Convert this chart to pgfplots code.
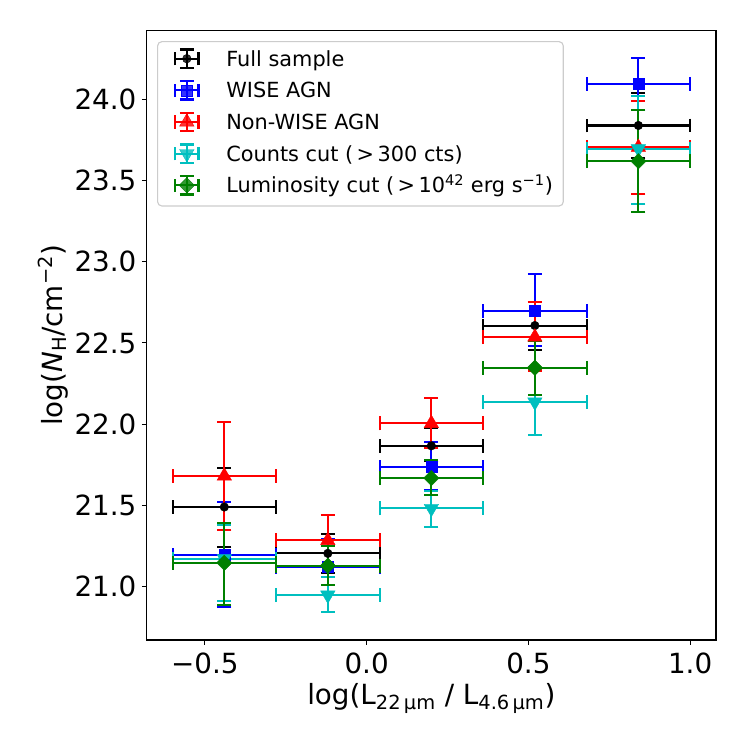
\documentclass[border=0pt]{standalone}
\usepackage{fontspec}
\setmainfont{DejaVu Sans}
\usepackage{pgfplots}
\pgfplotsset{compat=1.18}
\usepackage{pgfplotstable}

\definecolor{mplc}{rgb}{0,0.75,0.75}
\definecolor{mplg}{rgb}{0,0.5,0}

\pgfplotstableread{
x y xe ep em
-0.44 21.489 0.16 0.241 0.245
-0.12 21.203 0.16 0.119 0.119
0.20 21.866 0.16 0.109 0.092
0.52 22.607 0.16 0.147 0.151
0.84 23.840 0.16 0.200 0.200
}\full
\pgfplotstableread{
x y xe ep em
-0.44 21.193 0.16 0.327 0.323
-0.12 21.120 0.16 0.173 0.174
0.20 21.735 0.16 0.152 0.142
0.52 22.698 0.16 0.224 0.218
0.84 24.097 0.16 0.156 0.162
}\wise
\pgfplotstableread{
x y xe ep em
-0.44 21.680 0.16 0.330 0.333
-0.12 21.283 0.16 0.157 0.155
0.20 22.004 0.16 0.154 0.154
0.52 22.536 0.16 0.218 0.206
0.84 23.705 0.16 0.285 0.288
}\nonwise
\pgfplotstableread{
x y xe ep em
-0.44 21.170 0.16 0.208 0.260
-0.12 20.946 0.16 0.114 0.106
0.20 21.480 0.16 0.110 0.117
0.52 22.136 0.16 0.210 0.206
0.84 23.696 0.16 0.324 0.341
}\counts
\pgfplotstableread{
x y xe ep em
-0.44 21.145 0.16 0.245 0.260
-0.12 21.127 0.16 0.120 0.119
0.20 21.667 0.16 0.109 0.105
0.52 22.347 0.16 0.166 0.170
0.84 23.620 0.16 0.315 0.314
}\lum

\pgfplotsset{
  errbars/.style={
    error bars/.cd,
      x dir=both, x explicit, y dir=both, y explicit,
      error bar style={line width=1.5pt, solid, #1},
      error mark options={rotate=90, mark size=5pt, line width=1.5pt, solid, #1},
  },
}

\begin{document}
\begin{tikzpicture}
\begin{axis}[
  scale only axis,
  width=409.9pt, height=438.7pt,
  xmin=-0.68, xmax=1.08,
  ymin=20.669, ymax=24.424,
  axis line style={line width=0.8pt},
  tick align=outside,
  xtick pos=bottom, ytick pos=left,
  major tick length=3.5pt,
  every tick/.style={line width=0.8pt, black},
  xtick={-0.5,0,0.5,1},
  xticklabels={−0.5,0.0,0.5,1.0},
  ytick={21,21.5,22,22.5,23,23.5,24},
  yticklabels={21.0,21.5,22.0,22.5,23.0,23.5,24.0},
  tick label style={font=\fontsize{20}{24}\selectfont},
  xticklabel style={inner sep=0pt, anchor=north, yshift=-5.4pt},
  yticklabel style={inner sep=0pt, anchor=east, xshift=-3.7pt},
  xlabel={log(L\textsubscript{22\,µm} / L\textsubscript{4.6\,µm})},
  ylabel={log(\textit{N}\textsubscript{H}/cm\textsuperscript{−2})},
  every axis x label/.style={at={(axis description cs:0.5,-0.1058)}, anchor=base, font=\fontsize{20}{24}\selectfont},
  every axis y label/.style={at={(axis description cs:-0.1479,0.5)}, rotate=90, anchor=base, font=\fontsize{20}{24}\selectfont},
  legend cell align=left,
  legend style={
    at={(axis description cs:0,1)}, anchor=north west,
    xshift=7.5pt, yshift=-7.5pt,
    font=\fontsize{15}{18}\selectfont,
    draw=black!20, line width=0.8pt, rounded corners=3pt,
    fill=white, fill opacity=0.8, text opacity=1,
    inner xsep=7.4pt, inner ysep=4.9pt,
    row sep=5.5pt, column sep=19.3pt,
    nodes={inner sep=0pt, text height=12.5pt, text depth=4.5pt},
  },
  legend image code/.code={
    \path[draw=none, fill=none] (0pt,-8.5pt) -- (22pt,8.5pt);
    \draw[line width=1.5pt, solid, sharp corners]
      (5.2pt,1.45pt) -- (22pt,1.45pt)
      (13.6pt,-5.15pt) -- (13.6pt,8.05pt)
      (5.2pt,-3.35pt) -- (5.2pt,6.25pt)
      (22pt,-3.35pt) -- (22pt,6.25pt)
      (8.6pt,-5.15pt) -- (18.6pt,-5.15pt)
      (8.6pt,8.05pt) -- (18.6pt,8.05pt);
    \draw[mark repeat=1, sharp corners] plot coordinates {(13.6pt,1.45pt)};
  },
]
\coordinate (bbsw) at (rel axis cs:0,0);
\coordinate (bbne) at (rel axis cs:1,1);

\addplot[only marks, black, mark=*, mark size=3.1pt,
  mark options={solid, fill=black, draw=black, line width=0.3pt},
  errbars=black]
  table[x=x, y=y, x error=xe, y error plus=ep, y error minus=em]{\full};
\addlegendentry{Full sample}

\addplot[only marks, blue, mark=square*, mark size=4.0pt,
  mark options={solid, fill=blue, draw=blue, line width=0.3pt},
  errbars=blue]
  table[x=x, y=y, x error=xe, y error plus=ep, y error minus=em]{\wise};
\addlegendentry{WISE AGN}

\addplot[only marks, red, mark=triangle*, mark size=6pt,
  mark options={solid, fill=red, draw=red, line width=0.3pt},
  errbars=red]
  table[x=x, y=y, x error=xe, y error plus=ep, y error minus=em]{\nonwise};
\addlegendentry{Non-WISE AGN}

\addplot[only marks, mplc, mark=triangle*, mark size=6pt,
  mark options={solid, fill=mplc, draw=mplc, line width=0.3pt, rotate=180},
  errbars=mplc]
  table[x=x, y=y, x error=xe, y error plus=ep, y error minus=em]{\counts};
\addlegendentry{Counts cut (\,>\,300 cts)}

\addplot[only marks, mplg, mark=square*, mark size=3.9pt,
  mark options={solid, fill=mplg, draw=mplg, line width=0.3pt, rotate=45},
  errbars=mplg]
  table[x=x, y=y, x error=xe, y error plus=ep, y error minus=em]{\lum};
\addlegendentry{Luminosity cut (\,>\,10\textsuperscript{42} erg s\textsuperscript{−1})}
\end{axis}
\pgfresetboundingbox
\path (bbsw) ++(-105.6pt,-77pt) rectangle ([shift={(22.3pt,22.1pt)}]bbne);
\end{tikzpicture}
\end{document}
